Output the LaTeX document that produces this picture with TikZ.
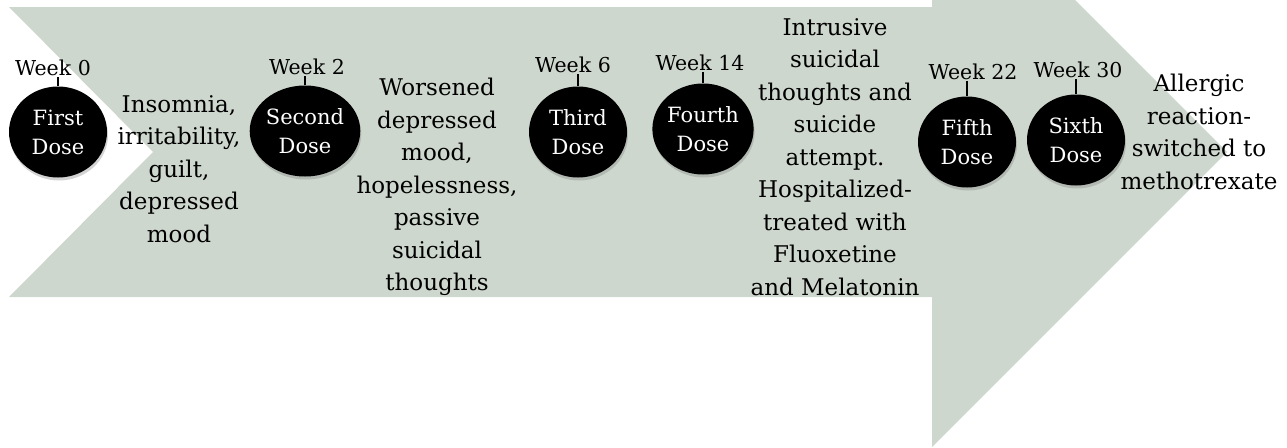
\documentclass[tikz,border=0pt]{standalone}
\usepackage{fontspec}
\setmainfont{DejaVu Serif}
\usetikzlibrary{shapes.geometric,shadows}
\definecolor{arrowfill}{RGB}{206,215,206}
\tikzset{
  dose/.style={ellipse, fill=black, minimum width=98pt, minimum height=91pt, inner sep=0pt,
    text=white, align=center, font=\fontsize{21}{29}\selectfont,
    drop shadow={shadow xshift=1pt, shadow yshift=-3pt, opacity=0.35}},
  week/.style={inner sep=1pt, font=\fontsize{20.5}{22}\selectfont},
  event/.style={align=center, inner sep=0pt, font=\fontsize{23}{32.5}\selectfont},
  tick/.style={line width=1.5pt}
}
\begin{document}
\begin{tikzpicture}[x=1pt,y=-1pt]
\useasboundingbox (0,0) rectangle (1287,447);
\begin{scope}
\clip (0,0) rectangle (1287,447);
\fill[arrowfill] (9,7) -- (932,7) -- (932,-143) -- (1227,152) -- (932,447) -- (932,297) -- (9,297) -- (153,152) -- cycle;
\end{scope}
% doses
\node[dose] (d0) at (58,132) {First\\Dose};
\node[dose] (d2) at (305,131) {Second\\Dose};
\node[dose] (d6) at (578,132) {Third\\Dose};
\node[dose] (d14) at (703,129) {Fourth\\Dose};
\node[dose] (d22) at (967,142) {Fifth\\Dose};
\node[dose] (d30) at (1076,140) {Sixth\\Dose};
% weeks
\node[week] (w0) at (53,68) {Week 0};
\node[week] (w2) at (307,67) {Week 2};
\node[week] (w6) at (573,65) {Week 6};
\node[week] (w14) at (700,63) {Week 14};
\node[week] (w22) at (973,72) {Week 22};
\node[week] (w30) at (1078,70) {Week 30};
\foreach \d/\w in {d0/w0,d2/w2,d6/w6,d14/w14,d22/w22,d30/w30}
  \draw[tick] (\d.north) -- (\d.north |- \w.south);
% events
\node[event] (e1) at (179,169) {Insomnia,\\irritability,\\guilt,\\depressed\\mood};
\node[event] (e2) at (437,187) {Worsened\\depressed\\mood,\\hopelessness,\\passive\\suicidal\\thoughts};
\node[event] (e3) at (835,157) {Intrusive\\suicidal\\thoughts and\\suicide\\attempt.\\Hospitalized-\\treated with\\Fluoxetine\\and Melatonin};
\node[event] (e4) at (1199,132) {Allergic\\reaction-\\switched to\\methotrexate};
\end{tikzpicture}
\end{document}
